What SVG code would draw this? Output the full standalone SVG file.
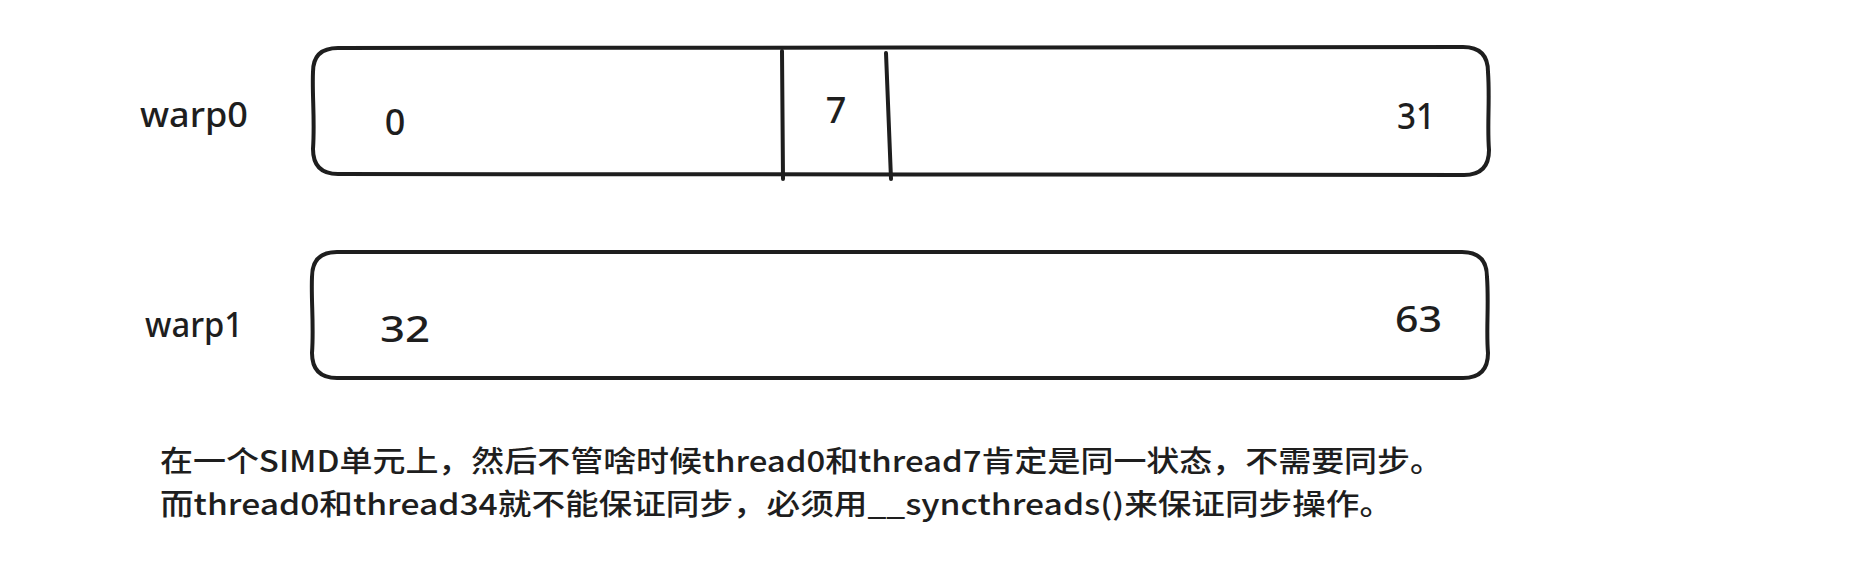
<svg xmlns="http://www.w3.org/2000/svg" width="1856" height="562" viewBox="0 0 1856 562">
<style>
.box{fill:#fff;stroke:#1e1e1e;stroke-width:4;stroke-linecap:round;stroke-linejoin:round}
.div{fill:none;stroke:#1e1e1e;stroke-width:4;stroke-linecap:round}
.lbl{font-family:"Noto Sans","Noto Sans CJK SC",sans-serif;fill:#1e1e1e;font-size:34px;font-weight:500}
.num{font-family:"Noto Sans","Noto Sans CJK SC",sans-serif;fill:#1e1e1e;font-size:36px;font-weight:500}
.cap{font-family:"Noto Sans CJK SC",sans-serif;fill:#1e1e1e;font-size:29px;font-weight:500}
</style>
<rect width="1856" height="562" fill="#fff"/>
<g id="warp0-label"><text class="lbl" x="140" y="127" textLength="108" lengthAdjust="spacingAndGlyphs">warp0</text></g>
<g id="warp0">
<path class="box" d="M338 48 C700 46 1100 49 1463 47 Q1488 47 1488 72 C1490 100 1487 125 1489 150 Q1489 175 1464 175 C1100 173 700 176 338 174 Q313 174 313 149 C315 120 312 95 313 72 Q313 48 338 48 Z"/>
<path class="div" d="M782 51 L783 179"/>
<path class="div" d="M886 53 L891 179"/>
<text class="num" x="395" y="135" text-anchor="middle">0</text>
<text class="num" x="836" y="123" text-anchor="middle">7</text>
<text class="num" x="1397" y="129" textLength="38" lengthAdjust="spacingAndGlyphs">31</text>
</g>
<g id="warp1-label"><text class="lbl" x="145" y="337" textLength="98" lengthAdjust="spacingAndGlyphs">warp1</text></g>
<g id="warp1">
<path class="box" d="M337 252 C700 251 1100 253 1462 252 Q1487 252 1487 277 C1489 305 1486 330 1488 353 Q1488 378 1463 378 C1100 377 700 379 337 378 Q312 378 312 353 C314 325 311 300 312 277 Q312 252 337 252 Z"/>
<text class="num" x="380" y="342" textLength="50" lengthAdjust="spacingAndGlyphs">32</text>
<text class="num" x="1395" y="332" textLength="47" lengthAdjust="spacingAndGlyphs">63</text>
</g>
<g id="caption">
<text class="cap" x="160" y="472" textLength="1283" lengthAdjust="spacingAndGlyphs">在一个SIMD单元上，然后不管啥时候thread0和thread7肯定是同一状态，不需要同步。</text>
<text class="cap" x="160" y="515" textLength="1233" lengthAdjust="spacingAndGlyphs">而thread0和thread34就不能保证同步，必须用__syncthreads()来保证同步操作。</text>
</g>
</svg>
